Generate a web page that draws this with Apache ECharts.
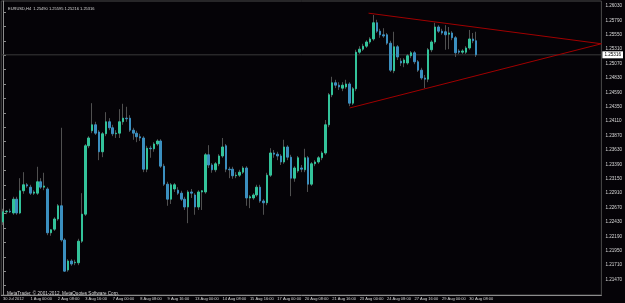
<!DOCTYPE html>
<html>
<head>
<meta charset="utf-8">
<script src="https://cdn.jsdelivr.net/npm/echarts@6/dist/echarts.min.js"></script>
<style>
html,body{margin:0;padding:0;background:#050307;}
#chart{width:625px;height:303px;}
</style>
</head>
<body>
<div id="chart"></div>
<script>
// EURUSD H4, 31 Jul - 30 Aug 2012
var opens = [
1.2253,1.2270,1.2271,1.2268,1.2291,1.2268,1.2305,1.2315,1.2311,1.2301,
1.2301,1.2320,1.2311,1.2308,1.2235,1.2241,1.2258,1.2280,1.2223,1.2173,
1.2188,1.2185,1.2185,1.2221,1.2266,1.2380,1.2405,1.2415,1.2403,1.2370,
1.2400,1.2420,1.2410,1.2400,1.2401,1.2420,1.2426,1.2426,1.2406,1.2401,
1.2395,1.2393,1.2341,1.2376,1.2375,1.2383,1.2388,1.2346,1.2316,1.2291,
1.2308,1.2306,1.2301,1.2291,1.2278,1.2303,1.2298,1.2278,1.2303,1.2303,
1.2365,1.2348,1.2340,1.2350,1.2363,1.2380,1.2341,1.2341,1.2330,1.2331,
1.2336,1.2343,1.2293,1.2293,1.2298,1.2311,1.2288,1.2285,1.2331,1.2368,
1.2366,1.2363,1.2353,1.2378,1.2361,1.2326,1.2338,1.2343,1.2340,1.2360,
1.2316,1.2350,1.2353,1.2360,1.2368,1.2415,1.2465,1.2485,1.2481,1.2476,
1.2478,1.2483,1.2451,1.2475,1.2536,1.2541,1.2546,1.2553,1.2558,1.2585,
1.2571,1.2565,1.2565,1.2551,1.2505,1.2545,1.2521,1.2518,1.2518,1.2530,
1.2535,1.2520,1.2506,1.2493,1.2491,1.2540,1.2553,1.2578,1.2571,1.2570,
1.2566,1.2568,1.2560,1.2538,1.2536,1.2536,1.2543,1.2558,1.2555
];
var closes = [
1.2270,1.2271,1.2270,1.2291,1.2268,1.2305,1.2315,1.2313,1.2301,1.2303,
1.2320,1.2311,1.2313,1.2235,1.2240,1.2258,1.2280,1.2223,1.2171,1.2188,
1.2183,1.2186,1.2221,1.2266,1.2380,1.2393,1.2415,1.2401,1.2370,1.2400,
1.2420,1.2410,1.2400,1.2401,1.2420,1.2426,1.2425,1.2406,1.2401,1.2395,
1.2393,1.2341,1.2376,1.2375,1.2383,1.2388,1.2346,1.2316,1.2291,1.2315,
1.2315,1.2301,1.2291,1.2278,1.2303,1.2301,1.2278,1.2303,1.2305,1.2365,
1.2348,1.2340,1.2350,1.2363,1.2378,1.2341,1.2340,1.2330,1.2331,1.2336,
1.2343,1.2293,1.2295,1.2298,1.2311,1.2288,1.2285,1.2331,1.2368,1.2366,
1.2363,1.2353,1.2378,1.2361,1.2326,1.2343,1.2360,1.2341,1.2360,1.2316,
1.2350,1.2353,1.2360,1.2368,1.2415,1.2465,1.2485,1.2481,1.2478,1.2481,
1.2483,1.2451,1.2475,1.2536,1.2541,1.2546,1.2553,1.2558,1.2585,1.2571,
1.2565,1.2563,1.2551,1.2506,1.2545,1.2528,1.2518,1.2523,1.2530,1.2535,
1.2520,1.2506,1.2493,1.2491,1.2540,1.2553,1.2578,1.2571,1.2568,1.2565,
1.2568,1.2560,1.2535,1.2536,1.2538,1.2543,1.2558,1.2555,1.25316
];
var lows = [
1.2248,1.2266,1.2268,1.2265,1.2265,1.2266,1.2300,1.2310,1.2298,1.2298,
1.2298,1.2308,1.2306,1.2231,1.2230,1.2238,1.2255,1.2220,1.2170,1.2170,
1.2180,1.2181,1.2181,1.2218,1.2263,1.2376,1.2401,1.2398,1.2356,1.2361,
1.2396,1.2406,1.2396,1.2393,1.2393,1.2415,1.2420,1.2403,1.2390,1.2386,
1.2388,1.2336,1.2336,1.2360,1.2370,1.2380,1.2343,1.2313,1.2280,1.2283,
1.2303,1.2298,1.2288,1.2273,1.2251,1.2293,1.2265,1.2273,1.2273,1.2300,
1.2343,1.2335,1.2336,1.2346,1.2360,1.2336,1.2326,1.2325,1.2326,1.2328,
1.2333,1.2280,1.2276,1.2290,1.2295,1.2285,1.2265,1.2281,1.2328,1.2360,
1.2356,1.2348,1.2350,1.2356,1.2296,1.2320,1.2335,1.2336,1.2336,1.2303,
1.2313,1.2346,1.2350,1.2356,1.2365,1.2411,1.2461,1.2476,1.2473,1.2471,
1.2475,1.2446,1.2448,1.2471,1.2533,1.2538,1.2543,1.2550,1.2555,1.2568,
1.2560,1.2560,1.2548,1.2503,1.2501,1.2523,1.2513,1.2511,1.2515,1.2526,
1.2516,1.2503,1.2490,1.2476,1.2486,1.2536,1.2550,1.2568,1.2565,1.2540,
1.2541,1.2556,1.2528,1.2533,1.2533,1.2533,1.2540,1.2551,1.2528
];
var highs = [
1.2275,1.2273,1.2275,1.2295,1.2295,1.2326,1.2336,1.2318,1.2315,1.2306,
1.2345,1.2326,1.2335,1.2311,1.2241,1.2261,1.2283,1.2410,1.2226,1.2191,
1.2191,1.2190,1.2225,1.2301,1.2383,1.2396,1.2451,1.2420,1.2406,1.2403,
1.2436,1.2426,1.2415,1.2406,1.2441,1.2450,1.2445,1.2431,1.2410,1.2405,
1.2400,1.2396,1.2380,1.2380,1.2386,1.2391,1.2391,1.2350,1.2320,1.2318,
1.2318,1.2311,1.2305,1.2295,1.2306,1.2308,1.2301,1.2306,1.2306,1.2368,
1.2381,1.2351,1.2353,1.2366,1.2393,1.2383,1.2345,1.2345,1.2336,1.2340,
1.2346,1.2346,1.2298,1.2301,1.2315,1.2315,1.2291,1.2335,1.2376,1.2373,
1.2370,1.2366,1.2390,1.2381,1.2365,1.2346,1.2363,1.2348,1.2375,1.2363,
1.2353,1.2356,1.2363,1.2371,1.2423,1.2468,1.2495,1.2490,1.2486,1.2486,
1.2490,1.2486,1.2478,1.2540,1.2546,1.2550,1.2556,1.2561,1.2598,1.2590,
1.2575,1.2576,1.2568,1.2555,1.2570,1.2548,1.2526,1.2526,1.2533,1.2538,
1.2538,1.2523,1.2510,1.2498,1.2543,1.2556,1.2585,1.2581,1.2575,1.2581,
1.2578,1.2571,1.2563,1.2541,1.2541,1.2546,1.2573,1.2568,1.2570
];

// time scale labels, one every 8 bars
var xLabels = ['30 Jul 2012','1 Aug 00:00','2 Aug 08:00','3 Aug 16:00','7 Aug 00:00','8 Aug 08:00',
  '9 Aug 16:00','13 Aug 00:00','14 Aug 08:00','15 Aug 16:00','17 Aug 00:00','20 Aug 08:00',
  '21 Aug 16:00','23 Aug 00:00','24 Aug 08:00','27 Aug 16:00','29 Aug 00:00','30 Aug 08:00'];
var labelStep = 8;
var slots = 175; // bars + empty space on the right

// price scale labels
var yTicks = [1.2147,1.2171,1.2195,1.2219,1.2243,1.2267,1.2291,1.2315,1.2339,1.2363,
  1.2387,1.2411,1.2435,1.2459,1.2483,1.2507,1.2531,1.2555,1.2579,1.2603];

// trend lines [bar index, price]
var trendUpper = [[106.6, 1.2601], [174.5, 1.2550]];
var trendLower = [[101.1, 1.2443], [174.5, 1.2550]];

var header = 'EURUSD,H4  1.25490 1.25595 1.25216 1.25316';
var footer = 'MetaTrader, \u00a9 2001-2012, MetaQuotes Software Corp.';

var categories = [];
for (var i = 0; i < slots; i++) categories.push(String(i));

var candles = [], bodies = [];
for (var k = 0; k < opens.length; k++) {
    candles.push([opens[k], closes[k], lows[k], highs[k]]);
    bodies.push([opens[k], closes[k], Math.min(opens[k], closes[k]), Math.max(opens[k], closes[k])]);
}
var lastClose = closes[closes.length - 1];

var font = 'Liberation Sans';
var smallFont = 4.0;
var priceFont = 4.6;
var showLabel = function (i) { return i % labelStep === 0 && i / labelStep < xLabels.length; };

var chart = echarts.init(document.getElementById('chart'));
chart.setOption({
    animation: false,
    backgroundColor: '#050307',
    textStyle: {fontFamily: font},
    title: [
        {text: header, left: 3, top: 2, textStyle: {color: '#d8d8d8', fontSize: smallFont, fontWeight: 'normal', fontFamily: font}},
        {text: footer, left: 2, top: 286, textStyle: {color: '#d8d8d8', fontSize: 4.6, fontWeight: 'normal', fontFamily: font}}
    ],
    grid: {left: 0, right: 17, top: 1, bottom: 8, show: true, borderColor: '#4a4a4a', borderWidth: 1},
    xAxis: [{
        type: 'category',
        data: categories,
        boundaryGap: true,
        axisLine: {lineStyle: {color: '#8c8c8c'}},
        axisTick: {alignWithLabel: true, length: 2, lineStyle: {color: '#8c8c8c'}, interval: showLabel},
        axisLabel: {
            interval: showLabel,
            formatter: function (v, i) { return xLabels[i / labelStep] || ''; },
            align: 'left', margin: 2, color: '#d8d8d8', fontSize: smallFont, fontFamily: font
        },
        splitLine: {show: false}
    }, {
        type: 'value', min: -0.5, max: slots - 0.5, show: false
    }],
    yAxis: {
        type: 'value',
        position: 'right',
        min: 1.21313,
        max: 1.26213,
        axisLine: {show: true, lineStyle: {color: '#8c8c8c'}},
        axisTick: {show: true, customValues: yTicks, length: 3, lineStyle: {color: '#8c8c8c'}},
        axisLabel: {
            customValues: yTicks,
            formatter: function (v) { return v.toFixed(5); },
            color: '#d8d8d8', fontSize: priceFont, margin: 4, fontFamily: font,
            verticalAlign: 'bottom', padding: [0, 0, 3.5, 0]
        },
        splitLine: {show: false}
    },
    series: [
        {
            // bid price line
            type: 'line', xAxisIndex: 1, symbol: 'none', z: 1,
            data: [[-0.5, lastClose], [slots - 0.5, lastClose]],
            lineStyle: {color: '#3a3a3a', width: 1},
            endLabel: {
                show: true, distance: 1,
                formatter: function () { return lastClose.toFixed(5); },
                backgroundColor: '#ffffff', color: '#000', fontSize: priceFont, padding: [1, 2], fontFamily: font
            }
        },
        {
            // wicks
            type: 'candlestick',
            data: candles,
            barWidth: 1,
            itemStyle: {color: '#505050', color0: '#505050', borderColor: '#505050', borderColor0: '#505050', borderWidth: 1}
        },
        {
            // bodies
            type: 'candlestick',
            data: bodies,
            barWidth: 2,
            itemStyle: {color: '#33c39a', color0: '#3b8fbf', borderColor: '#33c39a', borderColor0: '#3b8fbf', borderWidth: 1}
        },
        {
            type: 'line', xAxisIndex: 1, data: trendUpper, symbol: 'none',
            lineStyle: {color: '#a00000', width: 1}
        },
        {
            type: 'line', xAxisIndex: 1, data: trendLower, symbol: 'none',
            lineStyle: {color: '#a00000', width: 1}
        }
    ]
});
</script>
</body>
</html>
